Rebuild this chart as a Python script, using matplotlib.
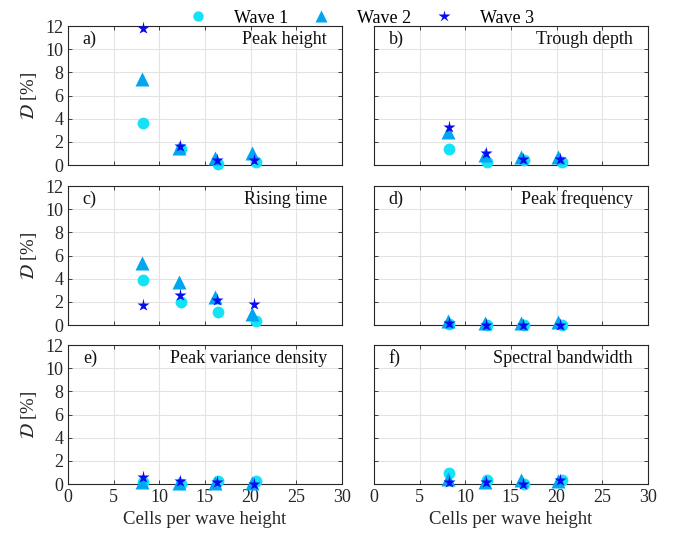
import matplotlib
matplotlib.use("Agg")
import matplotlib.pyplot as plt
from matplotlib.lines import Line2D

plt.rcParams['font.family'] = ['Liberation Serif', 'DejaVu Serif']
plt.rcParams['mathtext.fontset'] = 'stix'

# cells per wave height for each wave
x_wave1 = [8.25, 12.35, 16.45, 20.55]
x_wave2 = [8.15, 12.15, 16.1, 20.2]
x_wave3 = [8.2, 12.3, 16.3, 20.4]

panel_tags = ["a)", "b)", "c)", "d)", "e)", "f)"]
panel_names = ["Peak height", "Trough depth", "Rising time",
               "Peak frequency", "Peak variance density", "Spectral bandwidth"]

# deviation D [%] per panel
wave1 = [[3.63, 1.35, 0.05, 0.23],
         [1.35, 0.23, 0.43, 0.29],
         [3.86, 2.0, 1.11, 0.37],
         [0.1, 0.05, 0.05, 0.05],
         [0.15, 0.0, 0.23, 0.26],
         [0.95, 0.37, 0.0, 0.37]]
wave2 = [[7.43, 1.45, 0.58, 1.0],
         [2.87, 0.9, 0.7, 0.7],
         [5.37, 3.71, 2.43, 0.94],
         [0.35, 0.15, 0.2, 0.25],
         [0.2, 0.05, 0.1, 0.05],
         [0.4, 0.2, 0.37, 0.25]]
wave3 = [[11.8, 1.6, 0.43, 0.4],
         [3.28, 1.03, 0.49, 0.55],
         [1.74, 2.63, 2.2, 1.8],
         [0.2, 0.05, 0.05, 0.05],
         [0.6, 0.26, 0.15, 0.0],
         [0.15, 0.15, 0.0, 0.35]]

c1 = '#14E2F6'
c2 = '#00A6F2'
c3 = '#0A0AF2'

fig = plt.figure(figsize=(6.83, 5.4), dpi=100)

lefts = [0.0996, 0.5476]
bottoms = [0.6944, 0.398, 0.1037]
w, h = 0.401, 0.2574

for k in range(6):
    row, col = k // 2, k % 2
    ax = fig.add_axes([lefts[col], bottoms[row], w, h])
    ax.plot(x_wave1, wave1[k], 'o', color=c1, ms=8.5, mec='none', clip_on=False, zorder=3)
    ax.plot(x_wave2, wave2[k], '^', color=c2, ms=9.5, mec='none', clip_on=False, zorder=4)
    ax.plot(x_wave3, wave3[k], '*', color=c3, ms=9.5, mec='none', clip_on=False, zorder=5)

    ax.set_xlim(0, 30)
    ax.set_ylim(0, 12)
    ax.set_xticks(range(0, 31, 5))
    ax.set_yticks(range(0, 13, 2))
    ax.grid(True, color='#E3E3E3', lw=0.8)
    ax.set_axisbelow(True)
    ax.tick_params(direction='in', top=True, right=True, length=3,
                   width=0.6, labelsize=13, colors='#262626')
    for sp in ax.spines.values():
        sp.set_color('#262626')
        sp.set_linewidth(0.8)

    if col == 0:
        ax.set_ylabel(r'$\mathcal{D}$ [%]', fontsize=13.5, color='#262626', labelpad=4)
    else:
        ax.set_yticklabels([])
    if row == 2:
        ax.set_xlabel('Cells per wave height', fontsize=13.5, color='#262626')
    else:
        ax.set_xticklabels([])

    ax.text(0.054, 0.905, panel_tags[k], transform=ax.transAxes,
            fontsize=13, ha='left', va='center', color='#111111')
    ax.text(0.945, 0.905, panel_names[k], transform=ax.transAxes,
            fontsize=13, ha='right', va='center', color='#111111')

handles = [Line2D([], [], ls='none', marker='o', color=c1, ms=7.5, mec='none'),
           Line2D([], [], ls='none', marker='^', color=c2, ms=9, mec='none'),
           Line2D([], [], ls='none', marker='*', color=c3, ms=9, mec='none')]
fig.legend(handles, ['Wave 1', 'Wave 2', 'Wave 3'], loc='upper center',
           bbox_to_anchor=(0.523, 1.012), ncol=3, frameon=False, fontsize=13,
           columnspacing=0.8, handletextpad=1.0, handlelength=2.0)

fig.savefig('out.png', dpi=100)
